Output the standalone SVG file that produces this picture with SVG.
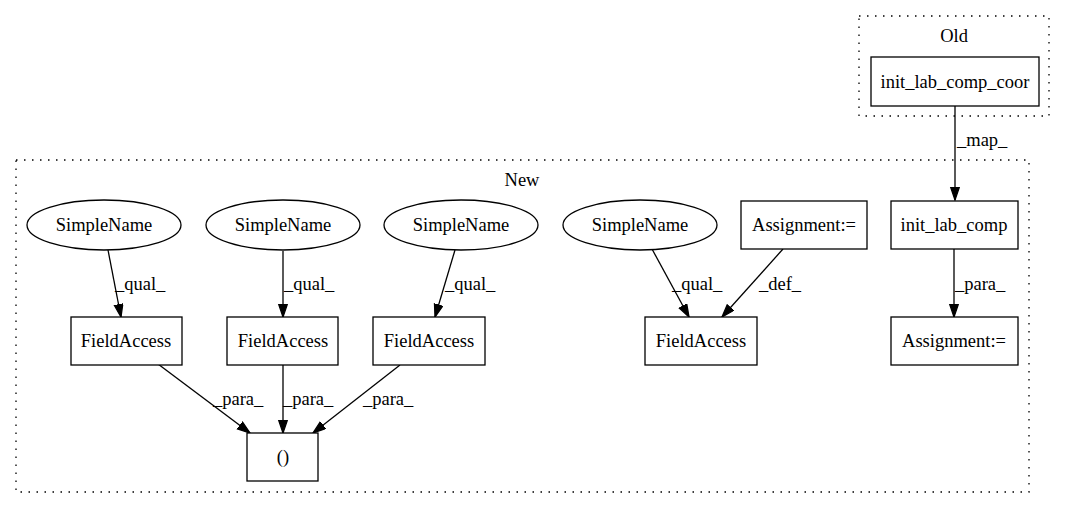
<svg xmlns="http://www.w3.org/2000/svg" width="1065" height="508" viewBox="0 0 1065 508">
<style>
text{font-family:"Liberation Serif","Times New Roman",serif;font-size:18.5px;fill:#000}
.c{fill:none;stroke:#000;stroke-width:1.3;stroke-dasharray:1.5,6.5}
.n{fill:#fff;stroke:#000;stroke-width:1.3}
.e{fill:none;stroke:#000;stroke-width:1.3;marker-end:url(#ah)}
.m{text-anchor:middle}
</style>
<defs>
<marker id="ah" markerUnits="userSpaceOnUse" markerWidth="14" markerHeight="11" refX="13" refY="4.75" orient="auto">
<path d="M0.5,0.5 L13,4.75 L0.5,9 z" fill="#000" stroke="#000" stroke-width="1.3"/>
</marker>
</defs>
<rect width="1065" height="508" fill="#fff"/>
<g id="cluster_old">
<rect class="c" x="859" y="16" width="190" height="100"/>
<text class="m" x="954" y="42">Old</text>
</g>
<g id="cluster_new">
<rect class="c" x="16" y="160" width="1013" height="332"/>
<text class="m" x="522" y="186">New</text>
</g>
<g id="connectors">
<path class="e" d="M955,106 L955,200"/>
<text x="957" y="146">_map_</text>
<path class="e" d="M108,250 L121,317"/>
<text x="115" y="290">_qual_</text>
<path class="e" d="M283,251 L283,317"/>
<text x="284" y="290">_qual_</text>
<path class="e" d="M455,250 L435,317"/>
<text x="445" y="290">_qual_</text>
<path class="e" d="M652,249 L689,317"/>
<text x="672" y="290">_qual_</text>
<path class="e" d="M783,249 L722,317"/>
<text x="759" y="290">_def_</text>
<path class="e" d="M954,249 L954,317"/>
<text x="955" y="290">_para_</text>
<path class="e" d="M158,364 L250,433"/>
<text x="213" y="405">_para_</text>
<path class="e" d="M283,365 L283,433"/>
<text x="283" y="405">_para_</text>
<path class="e" d="M400,365 L313,433"/>
<text x="363" y="405">_para_</text>
</g>
<g id="init_lab_comp_coor">
<rect class="n" x="871" y="57" width="168" height="49"/>
<text class="m" x="955" y="88">init_lab_comp_coor</text>
</g>
<g id="init_lab_comp">
<rect class="n" x="891" y="201" width="127" height="48"/>
<text class="m" x="954" y="231">init_lab_comp</text>
</g>
<g id="assignment_right">
<rect class="n" x="891" y="317" width="127" height="48"/>
<text class="m" x="954" y="347">Assignment:=</text>
</g>
<g id="assignment_mid">
<rect class="n" x="741" y="201" width="126" height="48"/>
<text class="m" x="804" y="231">Assignment:=</text>
</g>
<g id="simplename1">
<ellipse class="n" cx="104" cy="225" rx="77" ry="25"/>
<text class="m" x="104" y="231">SimpleName</text>
</g>
<g id="simplename2">
<ellipse class="n" cx="283" cy="225" rx="77" ry="25"/>
<text class="m" x="283" y="231">SimpleName</text>
</g>
<g id="simplename3">
<ellipse class="n" cx="461" cy="225" rx="77" ry="25"/>
<text class="m" x="461" y="231">SimpleName</text>
</g>
<g id="simplename4">
<ellipse class="n" cx="640" cy="225" rx="77" ry="25"/>
<text class="m" x="640" y="231">SimpleName</text>
</g>
<g id="fieldaccess1">
<rect class="n" x="71" y="317" width="111" height="48"/>
<text class="m" x="126" y="347">FieldAccess</text>
</g>
<g id="fieldaccess2">
<rect class="n" x="227" y="317" width="111" height="48"/>
<text class="m" x="283" y="347">FieldAccess</text>
</g>
<g id="fieldaccess3">
<rect class="n" x="373" y="317" width="112" height="48"/>
<text class="m" x="429" y="347">FieldAccess</text>
</g>
<g id="fieldaccess4">
<rect class="n" x="645" y="317" width="112" height="48"/>
<text class="m" x="701" y="347">FieldAccess</text>
</g>
<g id="tuple">
<rect class="n" x="247" y="433" width="71" height="48"/>
<text class="m" x="283" y="463">()</text>
</g>
</svg>
